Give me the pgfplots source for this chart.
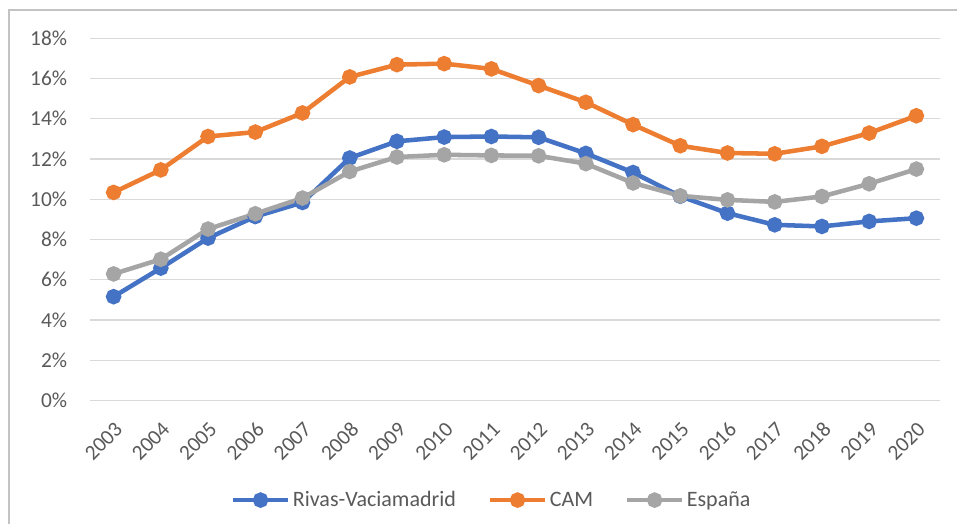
\documentclass[border=0pt]{standalone}
\usepackage{pgfplots}
\pgfplotsset{compat=1.18}
\usepackage{fontspec}
\setmainfont{Carlito}
\definecolor{cblue}{HTML}{4472C4}
\definecolor{corange}{HTML}{ED7D31}
\definecolor{cgray}{HTML}{A5A5A5}
\definecolor{ctext}{HTML}{595959}
\definecolor{cgrid}{HTML}{D9D9D9}
\begin{document}
\begin{tikzpicture}[x=0.75pt,y=0.75pt]
\useasboundingbox (0,0) rectangle (957,524);
\draw[color=cgrid!90!black, line width=0.9pt] (9,-5) -- (9,514) -- (962,514);
\begin{axis}[
  at={(67.5pt,92.625pt)}, anchor=south west,
  scale only axis, width=637.5pt, height=271.65pt,
  xmin=-0.5, xmax=17.5, ymin=0, ymax=18,
  axis line style={draw=none},
  major tick length=0pt,
  ymajorgrids, grid style={cgrid, line width=0.9pt},
  ytick={0,2,...,18},
  yticklabels={0\%,2\%,4\%,6\%,8\%,10\%,12\%,14\%,16\%,18\%},
  xtick={0,...,17},
  xticklabels={2003,2004,2005,2006,2007,2008,2009,2010,2011,2012,2013,2014,2015,2016,2017,2018,2019,2020},
  tick label style={font=\fontsize{16}{19}\selectfont, text=ctext},
  yticklabel style={anchor=east, inner sep=0pt, xshift=-17pt},
  xticklabel style={xshift=4pt, yshift=-19pt, rotate=45, anchor=east, inner sep=0pt},
  legend style={at={(axis description cs:0.473,-0.275)}, anchor=center, draw=none,
    font=\fontsize{16.5}{19}\selectfont, text=ctext, legend columns=3,
    /tikz/every even column/.append style={column sep=22pt},
    inner sep=0pt},
  legend image code/.code={\draw[mark repeat=2,mark phase=2] plot coordinates {(0cm,0cm) (0.72cm,0cm) (1.44cm,0cm)};},
  every axis plot/.append style={line width=3.4pt, mark=*, mark size=4.1pt, mark options={solid}},
]
\addplot[color=cblue] coordinates {
(0,5.16) (1,6.58) (2,8.07) (3,9.14) (4,9.84) (5,12.05) (6,12.88) (7,13.09) (8,13.12)
(9,13.08) (10,12.28) (11,11.33) (12,10.15) (13,9.31) (14,8.73) (15,8.65) (16,8.90) (17,9.06)};
\addlegendentry{Rivas-Vaciamadrid}
\addplot[color=corange] coordinates {
(0,10.34) (1,11.46) (2,13.12) (3,13.34) (4,14.29) (5,16.08) (6,16.69) (7,16.74) (8,16.48)
(9,15.65) (10,14.82) (11,13.71) (12,12.66) (13,12.30) (14,12.26) (15,12.63) (16,13.29) (17,14.15)};
\addlegendentry{CAM}
\addplot[color=cgray] coordinates {
(0,6.29) (1,7.02) (2,8.52) (3,9.28) (4,10.06) (5,11.38) (6,12.10) (7,12.21) (8,12.18)
(9,12.16) (10,11.77) (11,10.81) (12,10.17) (13,9.97) (14,9.87) (15,10.14) (16,10.77) (17,11.50)};
\addlegendentry{España}
\end{axis}
\end{tikzpicture}
\end{document}
